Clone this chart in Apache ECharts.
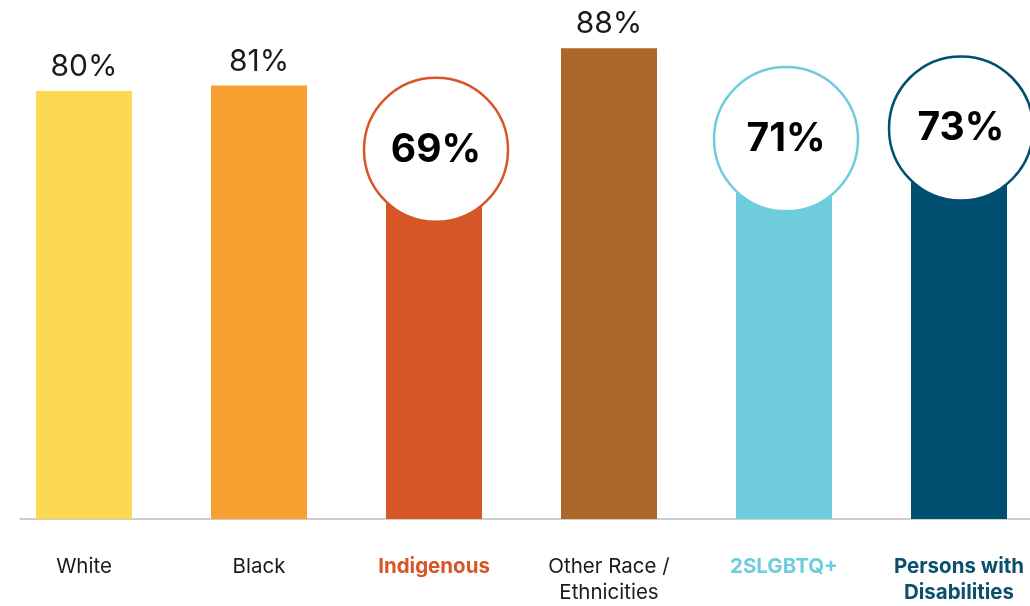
<!DOCTYPE html>
<html><head><meta charset="utf-8">
<script src="https://cdn.jsdelivr.net/npm/echarts@6/dist/echarts.min.js"></script>
<style>html,body{margin:0;padding:0;background:#fff}#c{width:1030px;height:606px}</style>
</head><body><div id="c"></div>
<script>
const categories = ['White', 'Black', 'Indigenous', 'Other Race /\nEthnicities', '2SLGBTQ+', 'Persons with\nDisabilities'];
const values = [80, 81, 69, 88, 71, 73];
const highlighted = [false, false, true, false, true, true];
const colors = ['#FDD853', '#F8A031', '#D65628', '#AC662A', '#6FCCDD', '#004F71'];
const labelColors = ['#1a1a1a', '#1a1a1a', '#D65628', '#1a1a1a', '#6FCCDD', '#0B4F6C'];

const FONT = 'Inter, "Noto Sans", sans-serif';
const chart = echarts.init(document.getElementById('c'));
const rich = {};
categories.forEach((c, i) => {
  rich['c' + i] = {
    color: labelColors[i], fontSize: 20.5, lineHeight: 26, fontFamily: FONT,
    fontWeight: highlighted[i] ? 'bold' : 'normal', align: 'center'
  };
});
chart.setOption({
  animation: false,
  grid: [
    { left: -3.5, width: 1050, top: 0, height: 519, outerBoundsMode: 'none', containLabel: false },
    { left: 20, right: 0, top: 0, height: 519, outerBoundsMode: 'none', containLabel: false }
  ],
  xAxis: [
    {
      type: 'category', data: categories, gridIndex: 0,
      axisLine: { show: false }, axisTick: { show: false },
      axisLabel: {
        margin: 35, interval: 0, hideOverlap: false,
        formatter: (v, i) => v.split('\n').map(s => '{c' + i + '|' + s + '}').join('\n'),
        rich: rich
      }
    },
    {
      type: 'value', gridIndex: 1, min: 0, max: 1,
      axisLine: { show: true, lineStyle: { color: '#bdbdbd', width: 1.5 } },
      axisTick: { show: false }, axisLabel: { show: false }, splitLine: { show: false }
    }
  ],
  yAxis: [
    { type: 'value', min: 0, max: 97, show: false, gridIndex: 0 },
    { type: 'value', min: 0, max: 97, show: false, gridIndex: 1 }
  ],
  series: [
    {
      type: 'bar', barWidth: 96, z: 2,
      data: values.map((v, i) => ({
        value: v,
        itemStyle: { color: colors[i] },
        label: {
          show: !highlighted[i], position: 'top', distance: 9,
          formatter: v + '%', fontSize: 30, color: '#1a1a1a', fontFamily: FONT
        }
      }))
    },
    {
      type: 'scatter', z: 5, clip: false,
      symbol: 'circle', symbolSize: 144, symbolOffset: [2, 0],
      data: values.map((v, i) => highlighted[i] ? {
        value: v,
        itemStyle: { color: '#fff', opacity: 1, borderColor: colors[i], borderWidth: 2.5 },
        label: {
          show: true, position: 'inside', formatter: v + '%',
          fontSize: 39, fontWeight: 'bold', color: '#000', fontFamily: FONT
        }
      } : '-'),
      emphasis: { disabled: true }
    }
  ]
});
</script></body></html>
